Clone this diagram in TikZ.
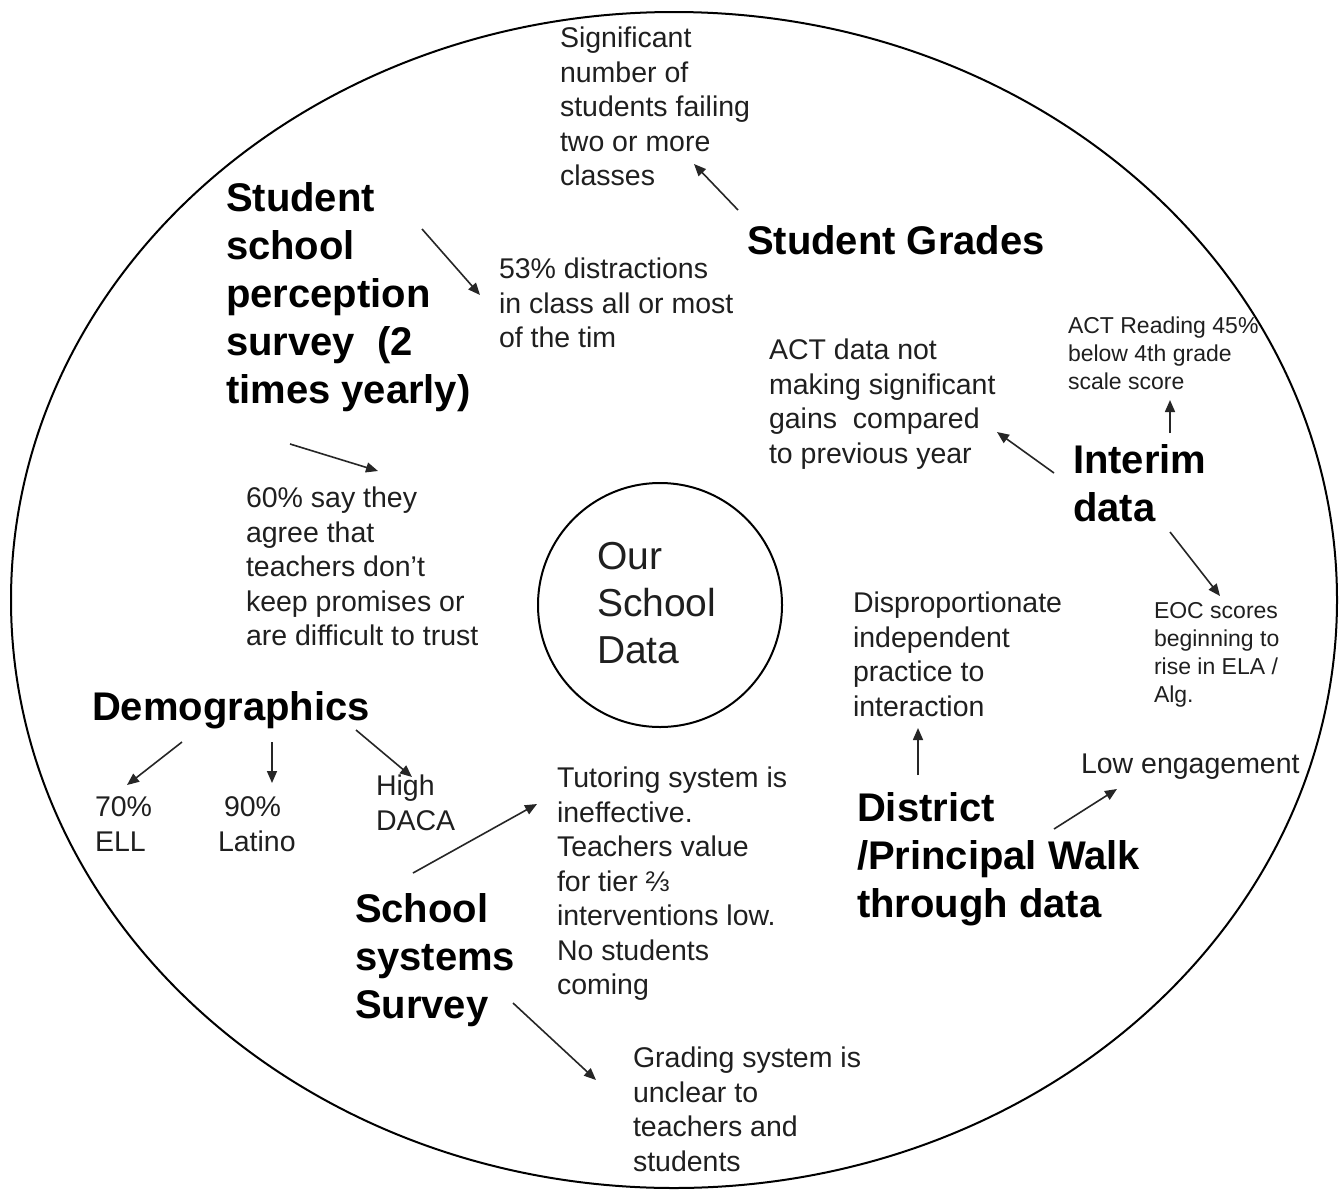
\documentclass[tikz,border=0pt]{standalone}
\usepackage{fontspec}
\setmainfont{Liberation Sans}
\usetikzlibrary{arrows.meta}
\tikzset{
  every node/.style={inner sep=0pt, outer sep=0pt},
  txt/.style={anchor=north west, align=left, font=\fontsize{28.5}{34.5}\selectfont, text=black!88},
  head/.style={anchor=north west, align=left, font=\fontsize{40}{48}\selectfont\bfseries, text=black},
  small/.style={anchor=north west, align=left, font=\fontsize{23}{28}\selectfont, text=black!88},
  conn/.style={line width=1.6pt, draw=black!85, -{Triangle[length=12pt,width=10pt]}},
  ring/.style={line width=2pt, draw=black}
}
\begin{document}
\begin{tikzpicture}[x=1pt,y=-1pt]
\useasboundingbox (0,0) rectangle (1341,1191);
\fill[white] (0,0) rectangle (1341,1191);
% outer ellipse and inner circle
\draw[ring] (674,600) ellipse [x radius=663, y radius=588];
\node[ring, circle, minimum size=244pt] (core) at (660,605) {};
\node[anchor=north west, align=left, font=\fontsize{39}{47}\selectfont, text=black!88] (ours) at (597,542) {Our\\School\\Data};

% text blocks
\node[txt] (sig) at (560,27) {Significant\\number of\\students failing\\two or more\\classes};
\node[head] (grades) at (747,226) {Student Grades};
\node[head] (perc) at (226,183) {Student\\school\\perception\\survey\ \ (2\\times yearly)};
\node[txt] (d53) at (499,258) {53\% distractions\\in class all or most\\of the tim};
\node[txt] (actnot) at (769,339) {ACT data not\\making significant\\gains\ \ compared\\to previous year};
\node[small] (actread) at (1068,317) {ACT Reading 45\%\\below 4th grade\\scale score};
\node[head] (interim) at (1073,445) {Interim\\data};
\node[txt] (p60) at (246,487) {60\% say they\\agree that\\teachers don’t\\keep promises or\\are difficult to trust};
\node[txt] (disp) at (853,592) {Disproportionate\\independent\\practice to\\interaction};
\node[small] (eoc) at (1154,602) {EOC scores\\beginning to\\rise in ELA /\\Alg.};
\node[head] (demo) at (92,692) {Demographics};
\node[txt] (ell) at (95,797) {70\%\\ELL};
\node[txt] (latino) at (218,797) {\hspace*{6pt}90\%\\Latino};
\node[txt] (daca) at (376,775) {High\\DACA};
\node[txt] (tutor) at (557,767) {Tutoring system is\\ineffective.\\Teachers value\\for tier ⅔\\interventions low.\\No students\\coming};
\node[head] (systems) at (355,894) {School\\systems\\Survey};
\node[txt] (grading) at (633,1047) {Grading system is\\unclear to\\teachers and\\students};
\node[head] (district) at (857,793) {District\\/Principal Walk\\through data};
\node[txt] (low) at (1081,754) {Low engagement};

% connector end points
\coordinate (g1) at (738,210);   \coordinate (g2) at (694,164);
\coordinate (p1) at (422,229);   \coordinate (p2) at (480,295);
\coordinate (q1) at (290,444);   \coordinate (q2) at (378,471);
\coordinate (i1) at (1054,473);  \coordinate (i2) at (997,432);
\coordinate (j1) at (1170,433);  \coordinate (j2) at (1170,400);
\coordinate (k1) at (1170,532);  \coordinate (k2) at (1220,596);
\coordinate (m1) at (182,742);   \coordinate (m2) at (127,785);
\coordinate (n1) at (272,742);   \coordinate (n2) at (272,783);
\coordinate (o1) at (356,730);   \coordinate (o2) at (412,777);
\coordinate (s1) at (413,873);   \coordinate (s2) at (537,804);
\coordinate (t1) at (513,1003);  \coordinate (t2) at (596,1080);
\coordinate (u1) at (918,775);   \coordinate (u2) at (918,728);
\coordinate (v1) at (1054,829);  \coordinate (v2) at (1117,789);

\draw[conn] (g1) -- (g2);
\draw[conn] (p1) -- (p2);
\draw[conn] (q1) -- (q2);
\draw[conn] (i1) -- (i2);
\draw[conn] (j1) -- (j2);
\draw[conn] (k1) -- (k2);
\draw[conn] (m1) -- (m2);
\draw[conn] (n1) -- (n2);
\draw[conn] (o1) -- (o2);
\draw[conn] (s1) -- (s2);
\draw[conn] (t1) -- (t2);
\draw[conn] (u1) -- (u2);
\draw[conn] (v1) -- (v2);
\end{tikzpicture}
\end{document}
